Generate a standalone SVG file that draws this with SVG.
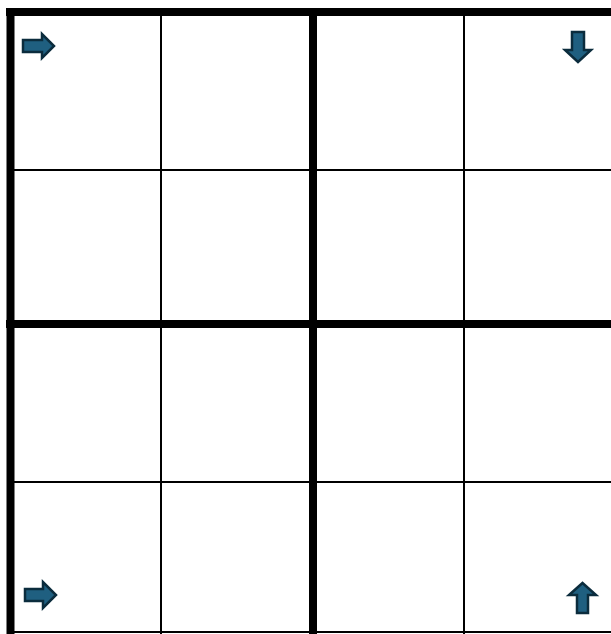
<svg xmlns="http://www.w3.org/2000/svg" width="611" height="634" viewBox="0 0 611 634">
<style>
.thin{stroke:#000;stroke-width:2;fill:none}
.thick{stroke:#000;stroke-width:8;fill:none}
.arrow{fill:#1f5f80;stroke:#0b2c3d;stroke-width:2.5;stroke-linejoin:miter}
</style>
<rect width="611" height="634" fill="#fff"/>
<g id="grid">
<line class="thin" x1="161" y1="12" x2="161" y2="634"/>
<line class="thin" x1="464" y1="12" x2="464" y2="634"/>
<line class="thin" x1="10" y1="170" x2="611" y2="170"/>
<line class="thin" x1="10" y1="482" x2="611" y2="482"/>
<line class="thin" x1="10" y1="632" x2="611" y2="632"/>
<line class="thick" x1="313" y1="12" x2="313" y2="634"/>
<line class="thick" x1="6" y1="324" x2="611" y2="324"/>
<line class="thick" x1="6" y1="12" x2="611" y2="12"/>
<line class="thick" x1="10.5" y1="8" x2="10.5" y2="634"/>
</g>
<g id="arrow-top-left"><polygon class="arrow" points="23,40 42,40 42,34 54,46 42,58 42,52 23,52"/></g>
<g id="arrow-top-right"><polygon class="arrow" points="572,32 584,32 584,50 591,50 578,62 565,50 572,50"/></g>
<g id="arrow-bottom-left"><polygon class="arrow" points="25,589 43,589 43,582 56,595 43,608 43,601 25,601"/></g>
<g id="arrow-bottom-right"><polygon class="arrow" points="577,613 588,613 588,595 596,595 582.5,583 569,595 577,595"/></g>
</svg>
